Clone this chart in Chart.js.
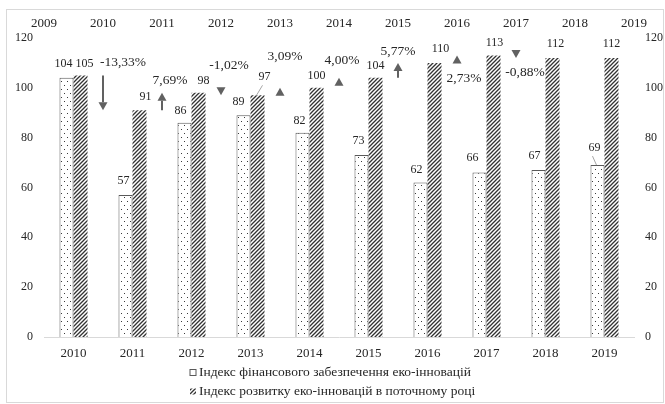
<!DOCTYPE html>
<html>
<head>
<meta charset="utf-8">
<script src="https://cdn.jsdelivr.net/npm/chart.js@4/dist/chart.umd.min.js"></script>
<style>
  html, body { margin: 0; padding: 0; background: #fff; }
  #wrap { position: relative; width: 665px; height: 404px; }
  #frame {
    position: absolute; left: 6px; top: 9px; right: 1px; bottom: 1px;
    border: 1px solid #d9d9d9; pointer-events: none;
  }
</style>
</head>
<body>
<div id="wrap">
  <canvas id="eco" width="665" height="404"></canvas>
  <div id="frame"></div>
</div>
<script>
// Years on the bottom (bar) axis and on the top axis, which sits on the bar edges.
const years = ["2010", "2011", "2012", "2013", "2014", "2015", "2016", "2017", "2018", "2019"];
const topYears = ["2009", "2010", "2011", "2012", "2013", "2014", "2015", "2016", "2017", "2018", "2019"];

const seriesNames = [
  "Індекс фінансового забезпечення еко-інновацій",
  "Індекс розвитку еко-інновацій в поточному році",
];

// Index values per year.
const financeIndex = [104, 57, 86, 89, 82, 73, 62, 66, 67, 69];
const devIndex = [105, 91, 98, 97, 100, 104, 110, 113, 112, 112];

// Year-on-year change of the development index, %, one per step 2010→2011 … 2018→2019.
const growthPct = [-13.33, 7.69, -1.02, 3.09, 4.0, 5.77, 2.73, -0.88, 0];

// Hand nudges for the value labels [dx, dy] from the bar's top centre,
// plus which labels hang on a leader line.
const financeLabelShift = [[-3, -14], [-2, -14], [-4, -12], [-5, -13], [-3, -12], [-3, -14], [-4, -13], [-7, -15], [-4, -14], [-3, -17]];
const devLabelShift = [[4, -12], [6, -13], [5, -12], [7, -18], [0, -12], [0, -12], [6, -14], [1, -13], [3, -14], [0, -14]];
const financeLeaders = [9];
const devLeaders = [3];
// Where each % label sits relative to its arrow (x, upper end of the arrow).
const growthLabelShift = [[20, -13], [8, -12], [8, -27], [5, -31], [3, -17], [0, -11], [7, 23], [9, 17]];

const INK = "#262626";
const SERIF = '"Liberation Serif", "Times New Roman", serif';

// Sparse dot fill for the financing bars.
function dotPattern() {
  const c = document.createElement("canvas");
  c.width = 6; c.height = 8;
  const g = c.getContext("2d");
  g.fillStyle = "#fff"; g.fillRect(0, 0, 6, 8);
  g.fillStyle = "#3a3a3a";
  g.fillRect(1, 1, 1, 1);
  g.fillRect(4, 5, 1, 1);
  return g.createPattern(c, "repeat");
}

// Dense "////" hatch for the development bars.
function hatchPattern() {
  const c = document.createElement("canvas");
  c.width = 4; c.height = 4;
  const g = c.getContext("2d");
  g.fillStyle = "#fff"; g.fillRect(0, 0, 4, 4);
  g.strokeStyle = "#333"; g.lineWidth = 1.3;
  g.beginPath();
  g.moveTo(-1, 5); g.lineTo(5, -1);
  g.moveTo(3, 5); g.lineTo(5, 3);
  g.moveTo(-1, 1); g.lineTo(1, -1);
  g.stroke();
  return g.createPattern(c, "repeat");
}

const dots = dotPattern();
const hatch = hatchPattern();

// Value labels above the bars (with a thin leader where the label was pulled away).
const barLabels = {
  id: "barLabels",
  afterDatasetsDraw(chart) {
    const ctx = chart.ctx;
    ctx.save();
    ctx.font = "12px " + SERIF;
    ctx.fillStyle = INK;
    ctx.textAlign = "center";
    ctx.textBaseline = "middle";
    [[0, financeLabelShift, financeLeaders], [1, devLabelShift, devLeaders]].forEach(([di, shift, leaders]) => {
      const values = chart.data.datasets[di].data;
      chart.getDatasetMeta(di).data.forEach((bar, i) => {
        const lx = bar.x + shift[i][0];
        const ly = bar.y + shift[i][1];
        if (leaders.includes(i)) {
          ctx.strokeStyle = "#a6a6a6";
          ctx.lineWidth = 1;
          ctx.beginPath();
          ctx.moveTo(bar.x - 1, bar.y);
          ctx.lineTo(lx - 2, ly + 8);
          ctx.stroke();
        }
        ctx.fillText(String(values[i]), lx, ly);
      });
    });
    ctx.restore();
  },
};

// Arrows on the top axis ticks: from one year's development index to the next.
const growthArrows = {
  id: "growthArrows",
  afterDatasetsDraw(chart) {
    const { ctx, scales } = chart;
    const x2 = scales.x2, y = scales.y;
    ctx.save();
    ctx.font = "13.5px " + SERIF;
    ctx.textAlign = "center";
    ctx.textBaseline = "middle";
    for (let i = 1; i < devIndex.length; i++) {
      const pct = growthPct[i - 1];
      if (pct === 0) continue;
      const x = x2.getPixelForValue(i);
      const y0 = y.getPixelForValue(devIndex[i - 1]);
      const y1 = y.getPixelForValue(devIndex[i]);
      const dir = y1 > y0 ? 1 : -1;
      const head = 8, half = 4.5;
      const base = y1 - dir * head;
      ctx.fillStyle = "#616161";
      ctx.strokeStyle = "#616161";
      if (Math.abs(y1 - y0) > head + 3) {
        ctx.lineWidth = 2;
        ctx.beginPath();
        ctx.moveTo(x, y0);
        ctx.lineTo(x, base);
        ctx.stroke();
      }
      ctx.beginPath();
      ctx.moveTo(x, y1);
      ctx.lineTo(x - half, base);
      ctx.lineTo(x + half, base);
      ctx.closePath();
      ctx.fill();

      const [dx, dy] = growthLabelShift[i - 1];
      ctx.fillStyle = INK;
      ctx.fillText(pct.toFixed(2).replace(".", ",") + "%", x + dx, Math.min(y0, y1) + dy);
    }
    ctx.restore();
  },
};

// Two-row legend under the axis, rows left-aligned, block centred.
const legendRows = {
  id: "legendRows",
  afterDraw(chart) {
    const ctx = chart.ctx;
    ctx.save();
    ctx.font = "13.5px " + SERIF;
    const box = 6, gap = 3;
    const textW = Math.max(...seriesNames.map((t) => ctx.measureText(t).width));
    const left = Math.round((chart.width - (box + gap + textW)) / 2);
    const rowY = [chart.chartArea.bottom + 35, chart.chartArea.bottom + 54];
    ctx.textBaseline = "middle";
    ctx.textAlign = "left";
    seriesNames.forEach((name, i) => {
      const top = Math.round(rowY[i] - box / 2) + 0.5;
      if (i === 0) {
        // plain outlined square for the financing series
        ctx.fillStyle = "#fff";
        ctx.fillRect(left, top, box, box);
        ctx.strokeStyle = "#595959";
        ctx.lineWidth = 1;
        ctx.strokeRect(left, top, box, box);
      } else {
        ctx.fillStyle = chart.data.datasets[i].backgroundColor;
        ctx.fillRect(left, top, box, box);
      }
      ctx.fillStyle = INK;
      ctx.fillText(name, left + box + gap, rowY[i]);
    });
    ctx.restore();
  },
};

const tickFont = { family: SERIF, size: 13 };
const valueFont = { family: SERIF, size: 12 };

new Chart(document.getElementById("eco"), {
  type: "bar",
  data: {
    labels: years,
    datasets: [
      {
        label: seriesNames[0],
        data: financeIndex,
        backgroundColor: dots,
        borderColor: "#595959",
        borderWidth: 1,
        categoryPercentage: 0.475,
        barPercentage: 1,
      },
      {
        label: seriesNames[1],
        data: devIndex,
        backgroundColor: hatch,
        borderWidth: 0,
        categoryPercentage: 0.475,
        barPercentage: 1,
      },
    ],
  },
  options: {
    responsive: false,
    animation: false,
    layout: { padding: 0 },
    plugins: { legend: { display: false }, tooltip: { enabled: false } },
    scales: {
      x: {
        offset: true,
        grid: { display: false, drawTicks: false },
        border: { color: "#d9d9d9" },
        ticks: { font: tickFont, color: INK, padding: 9, maxRotation: 0 },
        afterFit: (s) => { s.height = 67; },
      },
      x2: {
        type: "category",
        labels: topYears,
        position: "top",
        offset: false,
        grid: { display: false, drawTicks: false },
        border: { display: false },
        ticks: { font: tickFont, color: INK, padding: 7, autoSkip: false, maxRotation: 0 },
        afterFit: (s) => { s.height = 38; },
      },
      y: {
        min: 0, max: 120,
        grid: { display: false, drawTicks: false },
        border: { display: false },
        ticks: { stepSize: 20, font: valueFont, color: INK, padding: 11 },
        afterFit: (s) => { s.width = 44; },
      },
      y2: {
        position: "right",
        min: 0, max: 120,
        grid: { display: false, drawTicks: false },
        border: { display: false },
        ticks: { stepSize: 20, font: valueFont, color: INK, padding: 11 },
        afterFit: (s) => { s.width = 31; },
      },
    },
  },
  plugins: [barLabels, growthArrows, legendRows],
});
</script>
</body>
</html>
